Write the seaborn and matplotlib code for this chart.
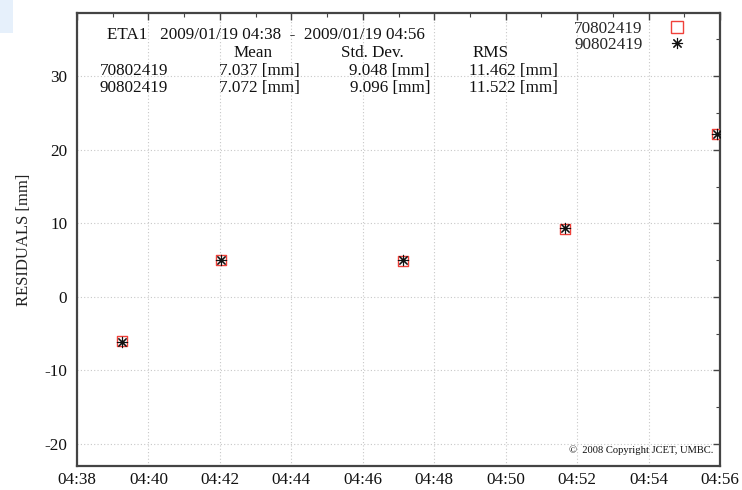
import matplotlib
matplotlib.use("Agg")
import matplotlib.pyplot as plt
import matplotlib.dates as mdates
from matplotlib.patches import Rectangle
from matplotlib.lines import Line2D
import seaborn as sns
import pandas as pd

# Observation epochs (2009/01/19) and residuals for the two targets
times = ["2009-01-19 04:39:15", "2009-01-19 04:42:02", "2009-01-19 04:47:08",
         "2009-01-19 04:51:40", "2009-01-19 04:55:55"]
res_70802419 = [-6.05, 5.00, 4.90, 9.25, 22.10]
res_90802419 = [-6.10, 5.05, 4.95, 9.30, 22.20]
stations = ["70802419", "90802419"]

# Summary statistics printed in the header block
stat_mean = ["7.037 [mm]", "7.072 [mm]"]
stat_std = ["9.048 [mm]", "9.096 [mm]"]
stat_rms = ["11.462 [mm]", "11.522 [mm]"]
header = "ETA1   2009/01/19 04:38  -  2009/01/19 04:56"
y_ticks = [-20, -10, 0, 10, 20, 30]

df = pd.DataFrame({
    "time": pd.to_datetime(times * 2),
    "res": res_70802419 + res_90802419,
    "station": [stations[0]] * len(times) + [stations[1]] * len(times),
})

sns.set_style("white")
plt.rcParams["font.family"] = ["Liberation Serif", "DejaVu Serif"]
plt.rcParams["axes.unicode_minus"] = False

FS = 12.3
W, H = 742, 490
fig = plt.figure(figsize=(W / 100, H / 100), dpi=100)
ax = fig.add_axes([77 / W, 1 - 466 / H, (720 - 77) / W, (466 - 13) / H])

red = "#f0413a"
sq = df[df.station == stations[0]]
st = df[df.station == stations[1]]
sns.scatterplot(data=sq, x="time", y="res", marker="s", s=52,
                facecolors="none", edgecolor=red, linewidth=1.0, ax=ax, zorder=3)
sns.scatterplot(data=st, x="time", y="res", marker=(8, 2, 0), s=55,
                color="#111111", edgecolor="#111111", linewidth=0.8, ax=ax, zorder=4)

ax.set_xlim(pd.Timestamp("2009-01-19 04:38"), pd.Timestamp("2009-01-19 04:56"))
ax.set_ylim(-23.0, 38.6)
ax.set_yticks(y_ticks)
ax.yaxis.set_minor_locator(matplotlib.ticker.MultipleLocator(5))
ax.xaxis.set_major_locator(mdates.MinuteLocator(byminute=range(0, 60, 2)))
ax.xaxis.set_minor_locator(mdates.MinuteLocator(byminute=range(0, 60, 1)))
ax.xaxis.set_major_formatter(mdates.DateFormatter("%H:%M"))

ax.set_xlabel("")
ax.set_ylabel("RESIDUALS [mm]", fontsize=12, labelpad=9, color="#222222")
ax.grid(True, which="major", linestyle=(0, (1, 2)), color="#c8c8c8", linewidth=0.8)
ax.tick_params(which="both", direction="in", top=True, right=True, colors="#444444",
               labelcolor="#111111", labelsize=FS)
ax.tick_params(which="major", length=5, width=1.0, pad=7)
ax.tick_params(axis="x", which="major", pad=4)
ax.tick_params(which="minor", length=3, width=0.8)
for sp in ax.spines.values():
    sp.set_color("#444444")
    sp.set_linewidth(1.6)

# Legend: label first, marker to the right
handles = [
    Line2D([], [], marker="s", linestyle="none", markersize=8,
           markerfacecolor="none", markeredgecolor=red, markeredgewidth=1.0),
    Line2D([], [], marker=(8, 2, 0), linestyle="none", markersize=8,
           color="#111111", markeredgewidth=0.8),
]
leg = ax.legend(handles, stations, loc="upper right", frameon=False,
                markerfirst=False, handletextpad=1.5, handlelength=1.0,
                labelspacing=0.0, fontsize=FS, borderpad=0.3,
                bbox_to_anchor=(699 / W, 1 - 7 / H), bbox_transform=fig.transFigure)

def ftext(x, y, s, ha="left", size=FS):
    fig.text(x / W, 1 - y / H, s, ha=ha, va="center", fontsize=size, color="#111111")

ftext(107, 35, header)
ftext(253, 53, "Mean", ha="center")
ftext(372, 53, "Std. Dev.", ha="center")
ftext(473, 53, "RMS")
for i, (name, y) in enumerate(zip(stations, [71, 88])):
    ftext(100, y, name)
    ftext(300, y, stat_mean[i], ha="right")
    ftext(430, y, stat_std[i], ha="right")
    ftext(558, y, stat_rms[i], ha="right")

ftext(713, 450, "\u00a9  2008 Copyright JCET, UMBC.", ha="right", size=7.6)

# Light corner tab
fig.patches.append(Rectangle((0, 1 - 33 / H), 13 / W, 33 / H, transform=fig.transFigure,
                             facecolor="#e6f0fb", edgecolor="none", zorder=0))

fig.savefig("out.png", dpi=100)
